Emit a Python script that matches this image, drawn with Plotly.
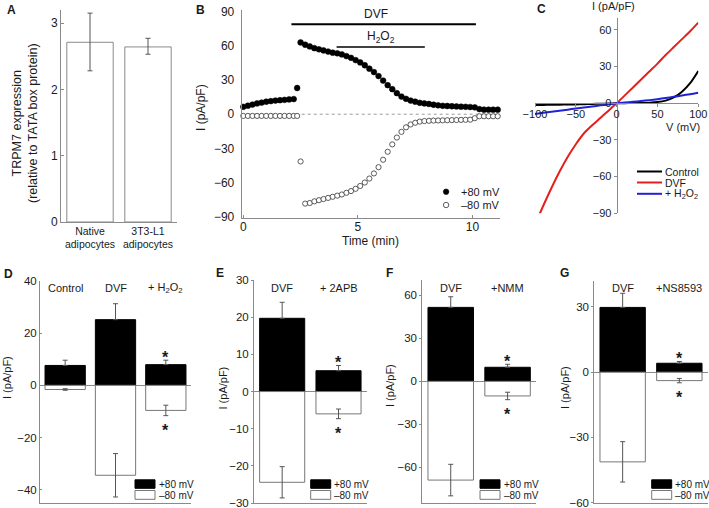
import plotly.graph_objects as go

W, H = 709, 508

# ---------------- DATA ----------------
# Panel A
a_categories = ["Native<br>adipocytes", "3T3-L1<br>adipocytes"]
a_values = [2.71, 2.64]
a_err_plus = [0.44, 0.13]
a_err_minus = [0.43, 0.11]

# Panel B (time course)
b_time = [0.0, 0.2, 0.4, 0.6, 0.8, 1.0, 1.2, 1.4, 1.6, 1.8, 2.0, 2.2, 2.35, 2.5,
          2.7, 2.9, 3.1, 3.3, 3.5, 3.7, 3.9, 4.1, 4.3, 4.5, 4.7, 4.9, 5.1, 5.3,
          5.5, 5.7, 5.9, 6.1, 6.3, 6.5, 6.7, 6.9, 7.1, 7.3, 7.5, 7.7, 7.9, 8.1,
          8.3, 8.5, 8.7, 8.9, 9.1, 9.3, 9.5, 9.7, 9.9, 10.1, 10.3, 10.5, 10.7,
          10.9, 11.1]
b_pos80 = [6.5, 7.5, 8.5, 9.5, 10.2, 11.0, 11.5, 12.0, 12.3, 12.6, 13.0, 13.3,
           23.0, 63.0,
           61.0, 59.5, 58.0, 57.0, 56.0, 55.0, 54.0, 53.5, 52.5, 51.0, 49.5, 47.5,
           45.5, 43.0, 40.0, 37.0, 33.5, 29.5, 25.5, 22.0, 18.5, 15.5, 13.5, 12.0,
           11.0, 10.0, 9.5, 9.0, 8.3, 7.8, 7.4, 7.2, 7.0, 6.8, 6.6, 6.5, 6.3, 6.0,
           4.5, 4.0, 4.0, 4.0, 4.0]
b_neg80 = [-1.5, -1.5, -1.5, -1.5, -1.5, -1.5, -1.5, -1.5, -1.5, -1.5, -1.5, -1.5,
           -1.5, -41.5,
           -78.5, -78.0, -76.5, -75.5, -74.5, -73.5, -72.5, -71.5, -70.5, -69.0,
           -67.5, -65.5, -63.0, -60.0, -56.5, -52.0, -46.5, -40.0, -33.0, -26.5,
           -20.5, -15.5, -11.5, -9.0, -7.5, -6.5, -6.0, -5.8, -5.6, -5.5, -5.4,
           -5.3, -5.2, -5.1, -5.0, -4.9, -4.8, -3.5, -1.8, -1.8, -1.8, -1.8, -1.8]
b_dvf_period = [2.1, 10.15]
b_dvf_level = 79
b_h2o2_period = [4.07, 7.92]
b_h2o2_level = 59
b_xticks = [0, 5, 10]
b_yticks = [-90, -60, -30, 0, 30, 60, 90]

# Panel C (I-V curves)
c_voltage = [-100, -90, -80, -70, -60, -50, -40, -30, -20, -10, 0,
             10, 20, 30, 40, 50, 60, 70, 80, 90, 100]
c_control = [-1.4, -1.3, -1.2, -1.1, -1.0, -0.9, -0.7, -0.5, -0.4, -0.2, 0.0,
             0.1, 0.2, 0.3, 0.5, 1.0, 2.2, 4.8, 9.5, 16.5, 26.5]
c_dvf = [-99.0, -84.0, -69.5, -56.0, -44.0, -33.5, -24.5, -18.0, -12.0, -6.0, 0.0,
         6.5, 13.0, 19.5, 26.0, 32.5, 39.5, 46.0, 52.5, 59.0, 66.0]
c_h2o2 = [-8.7, -7.8, -7.0, -6.1, -5.2, -4.3, -3.5, -2.6, -1.7, -0.9, 0.0,
          0.6, 1.2, 1.9, 2.6, 3.4, 4.3, 5.3, 6.4, 7.5, 8.7]
c_names = ["Control", "DVF", "+ H<sub>2</sub>O<sub>2</sub>"]
c_xticks = [-100, -50, 0, 50, 100]
c_yticks = [-90, -60, -30, 0, 30, 60]

# Panels D-G (bar summaries: +80 mV and -80 mV)
d_categories = ["Control", "DVF", "+ H<sub>2</sub>O<sub>2</sub>"]
d_pos80 = [7.6, 25.1, 7.9]
d_pos80_err = [2.0, 6.1, 1.7]
d_neg80 = [-1.6, -34.4, -9.6]
d_neg80_err = [0.3, 8.3, 2.0]
d_sig = [False, False, True]
d_yticks = [-40, -20, 0, 20, 40]

e_categories = ["DVF", "+ 2APB"]
e_pos80 = [19.7, 5.6]
e_pos80_err = [4.3, 1.4]
e_neg80 = [-24.4, -6.0]
e_neg80_err = [4.2, 1.3]
e_sig = [False, True]
e_yticks = [-30, -20, -10, 0, 10, 20, 30]

f_categories = ["DVF", "+NMM"]
f_pos80 = [51.6, 9.8]
f_pos80_err = [7.4, 2.1]
f_neg80 = [-68.9, -10.2]
f_neg80_err = [11.0, 2.6]
f_sig = [False, True]
f_yticks = [-60, -30, 0, 30, 60]

g_categories = ["DVF", "+NS8593"]
g_pos80 = [29.8, 4.1]
g_pos80_err = [6.5, 0.8]
g_neg80 = [-41.3, -3.9]
g_neg80_err = [9.3, 1.0]
g_sig = [False, True]
g_yticks = [-60, -30, 0, 30]

# ---------------- STYLE ----------------
FONT = "Liberation Sans, Arial, sans-serif"
TXT = "#1a1a1a"
AX = "#8a8a8a"
ERR = "#555555"


def px2x(px):
    return px / W


def px2y(py):
    return 1 - py / H


def xdom(x0, x1):
    return [px2x(x0), px2x(x1)]


def ydom(top, bottom):
    return [px2y(bottom), px2y(top)]


fig = go.Figure()
annotations = []
shapes = []


def axis_common(**kw):
    d = dict(showgrid=False, zeroline=False, showline=True, linecolor=AX,
             linewidth=1, tickfont=dict(family=FONT, size=12, color=TXT),
             tickcolor=AX, ticklen=3, fixedrange=True, automargin=False,
             ticklabeloverflow="allow")
    d.update(kw)
    return d


def add_text(text, x, y, size=12, bold=False, angle=0, xanchor="center",
             yanchor="middle", xref="paper", yref="paper"):
    if bold:
        text = "<b>" + text + "</b>"
    annotations.append(dict(text=text, x=x, y=y, xref=xref, yref=yref,
                            showarrow=False, textangle=angle,
                            xanchor=xanchor, yanchor=yanchor,
                            font=dict(family=FONT, size=size, color=TXT)))


# ---------------- PANEL A ----------------
a_x = list(range(len(a_values)))
fig.add_trace(go.Bar(
    x=a_x, y=a_values, width=0.8, xaxis="x", yaxis="y", showlegend=False,
    marker=dict(color="white", line=dict(color=AX, width=1)),
    error_y=dict(type="data", array=a_err_plus, arrayminus=a_err_minus,
                 symmetric=False, color=ERR, thickness=1, width=2.5)))
fig.update_layout(
    xaxis=axis_common(domain=xdom(61, 177), range=[-0.5, 1.5], anchor="y",
                      tickvals=a_x, ticktext=a_categories, ticks="",
                      ticklabelstandoff=-1,
                      tickfont=dict(family=FONT, size=10.5, color=TXT)),
    yaxis=axis_common(domain=ydom(9.8, 222), range=[0, 3.2], anchor="x",
                      tickvals=[0, 1, 2, 3], ticks="inside"),
)
add_text("TRPM7 expression<br>(relative to TATA box protein)",
         px2x(25), px2y(123), size=12.5, angle=-90)
add_text("A", px2x(11), px2y(10), size=12, bold=True)

# ---------------- PANEL B ----------------
fig.add_trace(go.Scatter(
    x=b_time, y=b_pos80, mode="markers", xaxis="x2", yaxis="y2",
    showlegend=False, cliponaxis=False,
    marker=dict(symbol="circle", size=5.8, color="black",
                line=dict(color="black", width=0.5))))
fig.add_trace(go.Scatter(
    x=b_time, y=b_neg80, mode="markers", xaxis="x2", yaxis="y2",
    showlegend=False, cliponaxis=False,
    marker=dict(symbol="circle", size=5.2, color="white",
                line=dict(color="#333333", width=0.8))))
fig.update_layout(
    xaxis2=axis_common(domain=xdom(241.7, 500), range=[-0.07, 11.2],
                       anchor="y2", tickvals=b_xticks, ticks="inside",
                       ticklabelstandoff=-3),
    yaxis2=axis_common(domain=ydom(10, 218.3), range=[-91.4, 91.5],
                       anchor="x2", tickvals=b_yticks, ticks="",
                       ticklabelstandoff=4),
)
shapes.append(dict(type="line", xref="x2 domain", yref="y2", x0=0, x1=1,
                   y0=0, y1=0, layer="below",
                   line=dict(color="#9a9a9a", width=1, dash="dot")))
shapes.append(dict(type="line", xref="x2", yref="y2", x0=b_dvf_period[0],
                   x1=b_dvf_period[1], y0=b_dvf_level, y1=b_dvf_level,
                   line=dict(color="black", width=2)))
shapes.append(dict(type="line", xref="x2", yref="y2", x0=b_h2o2_period[0],
                   x1=b_h2o2_period[1], y0=b_h2o2_level, y1=b_h2o2_level,
                   line=dict(color="black", width=1.6)))
annotations.append(dict(text="DVF", x=5.8, y=b_dvf_level, xref="x2", yref="y2",
                        yshift=10, showarrow=False,
                        font=dict(family=FONT, size=12, color=TXT)))
annotations.append(dict(text="H<sub>2</sub>O<sub>2</sub>",
                        x=sum(b_h2o2_period) / 2, y=b_h2o2_level, xref="x2",
                        yref="y2", yshift=10, showarrow=False,
                        font=dict(family=FONT, size=12, color=TXT)))
add_text("I (pA/pF)", px2x(201), px2y(108), size=12, angle=-90)
add_text("Time (min)", px2x(370), px2y(241), size=12)
add_text("B", px2x(200), px2y(10), size=12, bold=True)
shapes.append(dict(type="circle", xref="paper", yref="paper",
                   x0=px2x(443.3), x1=px2x(448.9), y0=px2y(194.5),
                   y1=px2y(188.9), fillcolor="black",
                   line=dict(color="black", width=0.5)))
shapes.append(dict(type="circle", xref="paper", yref="paper",
                   x0=px2x(443.4), x1=px2x(448.8), y0=px2y(207.7),
                   y1=px2y(202.3), fillcolor="white",
                   line=dict(color="#333333", width=0.8)))
add_text("+80 mV", px2x(459), px2y(191.7), size=11, xanchor="left")
add_text("\u201380 mV", px2x(459), px2y(205), size=11, xanchor="left")

# ---------------- PANEL C ----------------
c_colors = ["black", "#e3201b", "#1f22d6"]
for name, ys, col in zip(c_names, [c_control, c_dvf, c_h2o2], c_colors):
    fig.add_trace(go.Scatter(x=c_voltage, y=ys, mode="lines", name=name,
                             xaxis="x3", yaxis="y3", showlegend=False,
                             line=dict(color=col, width=2, shape="spline",
                                       smoothing=0.8)))
fig.update_layout(
    xaxis3=axis_common(domain=xdom(535, 698.3), range=[-100, 100],
                       anchor="free", position=px2y(103.3),
                       tickvals=c_xticks, ticks="outside", ticklen=3,
                       ticklabelstandoff=-3,
                       tickfont=dict(family=FONT, size=11, color=TXT)),
    yaxis3=axis_common(domain=ydom(18, 213.3), range=[-90, 69.8],
                       anchor="free", position=px2x(616.65),
                       tickvals=c_yticks, ticks="outside", ticklen=3,
                       tickfont=dict(family=FONT, size=11, color=TXT)),
)
add_text("I (pA/pF)", px2x(613), px2y(6), size=11)
add_text("V (mV)", px2x(683), px2y(127), size=11)
add_text("C", px2x(541), px2y(9.3), size=12, bold=True)
for i, (name, col) in enumerate(zip(c_names, c_colors)):
    yy = [171.5, 182.5, 193.8][i]
    shapes.append(dict(type="line", xref="paper", yref="paper",
                       x0=px2x(637), x1=px2x(662), y0=px2y(yy), y1=px2y(yy),
                       line=dict(color=col, width=2)))
    add_text(name, px2x(663), px2y(yy), size=10.5, xanchor="left")


# ---------------- PANELS D-G ----------------
def bar_panel(n, cats, pos, pos_err, neg, neg_err, sig, xd, yd, yr, ytv,
              tickdir, letter, letter_xy, title_xy, star_up, star_dn):
    xa, ya = "x%d" % n, "y%d" % n
    idx = list(range(len(cats)))
    fig.add_trace(go.Bar(
        x=idx, y=pos, width=0.8, xaxis=xa, yaxis=ya, showlegend=False,
        marker=dict(color="black", line=dict(color="black", width=1)),
        error_y=dict(type="data", array=pos_err, arrayminus=[0] * len(idx),
                     symmetric=False, color=ERR, thickness=1, width=2.5)))
    fig.add_trace(go.Bar(
        x=idx, y=neg, width=0.8, xaxis=xa, yaxis=ya, showlegend=False,
        marker=dict(color="white", line=dict(color="#777777", width=1)),
        error_y=dict(type="data", array=neg_err, color=ERR, thickness=1,
                     width=2.5)))
    fig.update_layout(**{
        "xaxis%d" % n: axis_common(domain=xdom(*xd), range=[-0.5, len(idx) - 0.5],
                                   anchor=ya, showticklabels=False, ticks=""),
        "yaxis%d" % n: axis_common(domain=ydom(*yd), range=yr, anchor=xa,
                                   tickvals=ytv, ticks=tickdir, ticklen=2,
                                   zeroline=True, zerolinecolor=AX,
                                   zerolinewidth=1,
                                   tickfont=dict(family=FONT, size=11.5,
                                                 color=TXT)),
    })
    for i, c in enumerate(cats):
        annotations.append(dict(text=c, x=i, y=px2y(288), xref=xa, yref="paper",
                                showarrow=False,
                                font=dict(family=FONT, size=11, color=TXT)))
    for i, s in enumerate(sig):
        if s:
            annotations.append(dict(text="<b>*</b>", x=i, y=pos[i] + pos_err[i],
                                    xref=xa, yref=ya, yshift=star_up,
                                    showarrow=False,
                                    font=dict(family=FONT, size=16, color=TXT)))
            annotations.append(dict(text="<b>*</b>", x=i, y=neg[i] - neg_err[i],
                                    xref=xa, yref=ya, yshift=star_dn,
                                    showarrow=False,
                                    font=dict(family=FONT, size=16, color=TXT)))
    add_text(letter, px2x(letter_xy[0]), px2y(letter_xy[1]), size=12, bold=True)
    add_text("I (pA/pF)", px2x(title_xy[0]), px2y(title_xy[1]), size=11,
             angle=-90)
    right = xd[1] - 36
    shapes.append(dict(type="rect", xref="paper", yref="paper",
                       x0=px2x(right - 20), x1=px2x(right), y0=px2y(488.3),
                       y1=px2y(479.8), fillcolor="black",
                       line=dict(color="black", width=1)))
    shapes.append(dict(type="rect", xref="paper", yref="paper",
                       x0=px2x(right - 20), x1=px2x(right), y0=px2y(499.3),
                       y1=px2y(490.5), fillcolor="white",
                       line=dict(color="#777777", width=1)))
    add_text("+80 mV", px2x(right + 1.5), px2y(484), size=10, xanchor="left")
    add_text("\u201380 mV", px2x(right + 1.5), px2y(495), size=10,
             xanchor="left")


bar_panel(4, d_categories, d_pos80, d_pos80_err, d_neg80, d_neg80_err, d_sig,
          (40, 191), (280.7, 503), [-45, 40], d_yticks, "inside", "D",
          (8.5, 273.5), (7, 378), 3, -15)
bar_panel(5, e_categories, e_pos80, e_pos80_err, e_neg80, e_neg80_err, e_sig,
          (254, 366.7), (280, 503.3), [-30.05, 30], e_yticks, "outside", "E",
          (220, 273), (222.5, 388), 3, -15)
bar_panel(6, f_categories, f_pos80, f_pos80_err, f_neg80, f_neg80_err, f_sig,
          (422.3, 536), (280, 503.3), [-85.1, 70.7], f_yticks, "outside", "F",
          (389, 273), (390, 386), 3, -15)
bar_panel(7, g_categories, g_pos80, g_pos80_err, g_neg80, g_neg80_err, g_sig,
          (594.3, 707.7), (280.7, 502.7), [-60.1, 42.1], g_yticks, "outside",
          "G", (564.5, 273), (565, 388), 3, -15)

fig.update_layout(
    template="none",
    width=W, height=H, autosize=False,
    margin=dict(l=0, r=0, t=0, b=0, pad=0),
    paper_bgcolor="white", plot_bgcolor="rgba(0,0,0,0)",
    barmode="overlay", showlegend=False,
    annotations=annotations, shapes=shapes,
    font=dict(family=FONT, size=12, color=TXT),
)

fig.write_html("out.html", config={"displayModeBar": False},
               post_script="document.body.style.margin='0';"
                           "document.body.style.overflow='hidden';")
